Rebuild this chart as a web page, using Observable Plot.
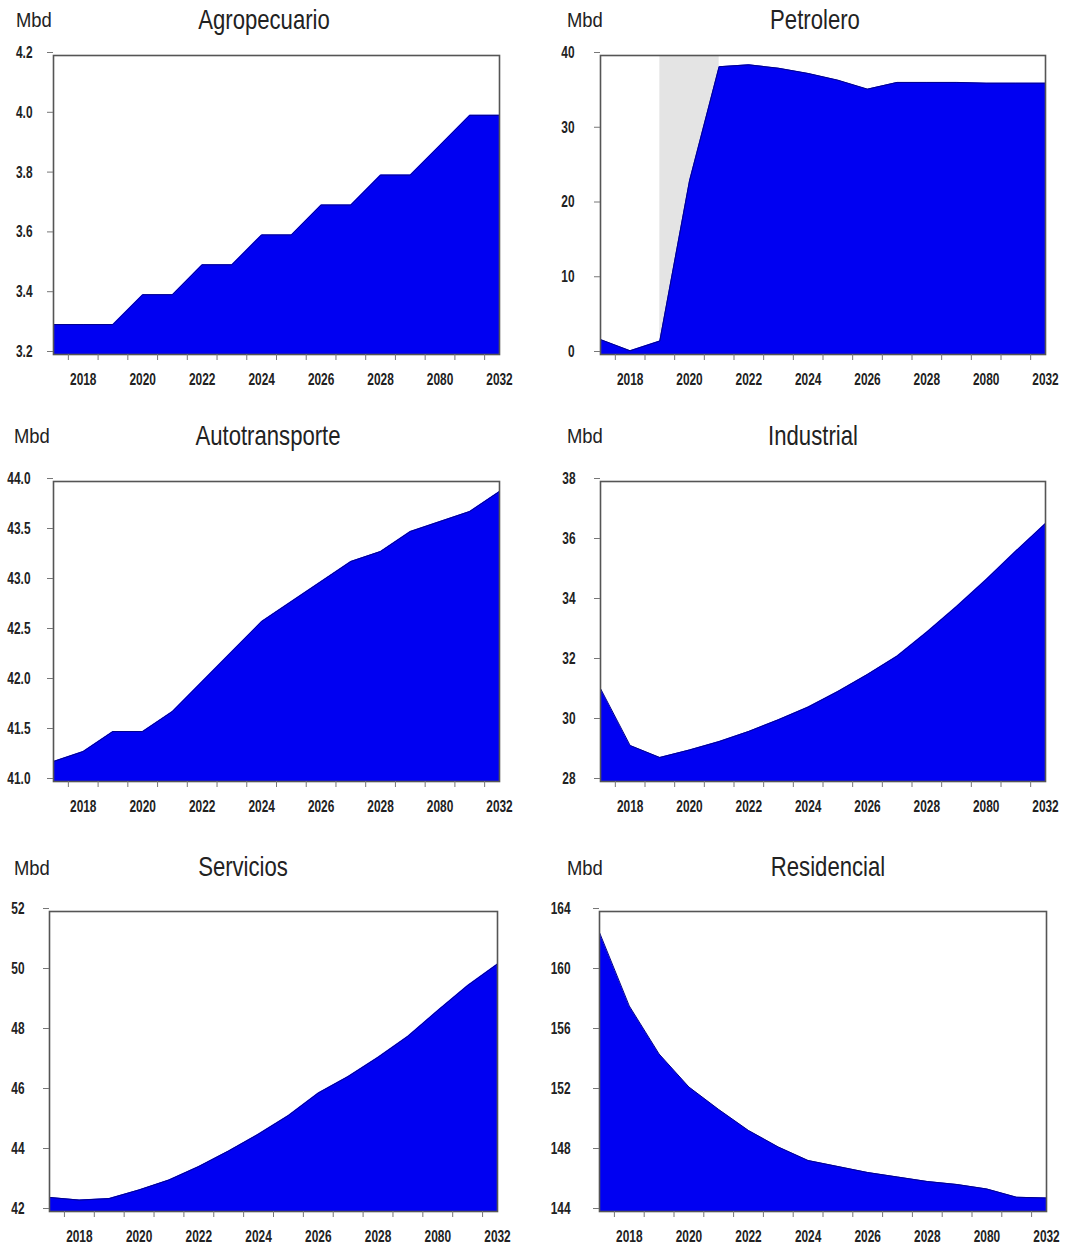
<!DOCTYPE html>
<html><head><meta charset="utf-8">
<script src="https://cdn.jsdelivr.net/npm/d3@7"></script>
<script src="https://cdn.jsdelivr.net/npm/@observablehq/plot@0.6"></script>
<style>
body{margin:0;background:#fff;}
#wrap{position:relative;width:1065px;height:1251px;overflow:hidden;background:#fff;}
.lbl{position:absolute;font-family:"Liberation Sans",Arial,sans-serif;color:#222;white-space:nowrap;line-height:1;}
.mbd{font-size:20px;transform-origin:left center;transform:scaleX(0.92);}
.ttl{font-size:28px;transform:translateX(-50%) scaleX(0.79);}
.panel{position:absolute;}
</style></head><body><div id="wrap"></div>
<script>
// ---- data ----
const years = [2017,2018,2019,2020,2021,2022,2023,2024,2025,2026,2027,2028,2029,2030,2031,2032];
const agropecuario   = [3.3,3.3,3.3,3.4,3.4,3.5,3.5,3.6,3.6,3.7,3.7,3.8,3.8,3.9,4.0,4.0];
const petrolero      = [2.0,0.5,1.8,23.2,38.5,38.75,38.3,37.6,36.7,35.5,36.4,36.4,36.4,36.3,36.3,36.3];
const autotransporte = [41.2,41.3,41.5,41.5,41.7,42.0,42.3,42.6,42.8,43.0,43.2,43.3,43.5,43.6,43.7,43.9];
const industrial     = [31.1,29.2,28.8,29.05,29.33,29.67,30.06,30.48,31.0,31.57,32.18,32.98,33.83,34.73,35.68,36.6];
const servicios      = [42.47,42.38,42.43,42.72,43.05,43.5,44.02,44.58,45.2,45.95,46.5,47.14,47.84,48.7,49.53,50.25];
const residencial    = [162.6,157.7,154.5,152.3,150.8,149.4,148.3,147.4,147.0,146.6,146.3,146.0,145.8,145.5,144.95,144.9];

const petroleroShade = [2019, 2021];

const titles = ["Agropecuario","Petrolero","Autotransporte","Industrial","Servicios","Residencial"];
const unitLabel = "Mbd";

const xTickYears  = [2018,2020,2022,2024,2026,2028,2030,2032];
const xTickLabels = ["2018","2020","2022","2024","2026","2028","2080","2032"];
const xMinorTicks = [2017.5,2018.5,2019.5,2020.5,2021.5,2022.5,2023.5,2024.5,2025.5,2026.5,2027.5,2028.5,2029.5,2030.5,2031.5];

const yTicksAgro = [3.2,3.4,3.6,3.8,4.0,4.2];
const yLabelsAgro = ["3.2","3.4","3.6","3.8","4.0","4.2"];
const yTicksPetro = [0,10,20,30,40];
const yLabelsPetro = ["0","10","20","30","40"];
const yTicksAuto = [41.0,41.5,42.0,42.5,43.0,43.5,44.0];
const yLabelsAuto = ["41.0","41.5","42.0","42.5","43.0","43.5","44.0"];
const yTicksInd = [28,30,32,34,36,38];
const yLabelsInd = ["28","30","32","34","36","38"];
const yTicksServ = [42,44,46,48,50,52];
const yLabelsServ = ["42","44","46","48","50","52"];
const yTicksRes = [144,148,152,156,160,164];
const yLabelsRes = ["144","148","152","156","160","164"];

// ---- layout ----
const panels = [
  {title:titles[0], values:agropecuario,   yT:yTicksAgro,  yL:yLabelsAgro,  x0:0,   w:530, L:53,  R:499,  T:55,  B:354,  tx:264, tb:30,  mx:16,  mb:27,  pad:15},
  {title:titles[1], values:petrolero,      yT:yTicksPetro, yL:yLabelsPetro, x0:530, w:535, L:600, R:1045, T:55,  B:354,  tx:815, tb:30,  mx:567, mb:27,  pad:20, shade:petroleroShade},
  {title:titles[2], values:autotransporte, yT:yTicksAuto,  yL:yLabelsAuto,  x0:0,   w:530, L:53,  R:499,  T:481, B:781,  tx:268, tb:446, mx:14,  mb:443, pad:17},
  {title:titles[3], values:industrial,     yT:yTicksInd,   yL:yLabelsInd,   x0:530, w:535, L:600, R:1045, T:481, B:781,  tx:813, tb:446, mx:567, mb:443, pad:19},
  {title:titles[4], values:servicios,      yT:yTicksServ,  yL:yLabelsServ,  x0:0,   w:530, L:49,  R:497,  T:911, B:1211, tx:243, tb:877, mx:14,  mb:875, pad:19},
  {title:titles[5], values:residencial,    yT:yTicksRes,   yL:yLabelsRes,   x0:530, w:535, L:599, R:1046, T:911, B:1211, tx:828, tb:877, mx:567, mb:875, pad:23}
];

const wrap = document.getElementById("wrap");
const FONT = '"Liberation Sans",Arial,sans-serif';

for (const p of panels) {
  const data = years.map((y, i) => ({year: y, value: p.values[i]}));
  const ymin = p.yT[0], ymax = p.yT[p.yT.length - 1];
  const mt = 12, mbot = 44;
  const h = (p.B - p.T) + mt + mbot;
  const marks = [];
  if (p.shade) {
    marks.push(Plot.rect([p.shade], {x1: d => d[0], x2: d => d[1], y1: () => ymin, y2: () => ymax, fill: "#e4e4e4"}));
  }
  marks.push(Plot.areaY(data, {x: "year", y1: () => ymin, y2: "value", fill: "#0000f2"}));
  marks.push(Plot.lineY(data, {x: "year", y: "value", stroke: "#00008a", strokeWidth: 1}));
  marks.push(Plot.frame({stroke: "#555", strokeWidth: 1.6}));
  marks.push(Plot.axisX(xMinorTicks, {anchor: "bottom", tickSize: 6, stroke: "#777", label: null, tickFormat: () => ""}));
  marks.push(Plot.axisX(xTickYears, {anchor: "bottom", tickSize: 0, tickPadding: 18, label: null,
    tickFormat: d => xTickLabels[xTickYears.indexOf(d)], fill: "#222", fontWeight: "bold", fontSize: 17}));
  marks.push(Plot.axisY(p.yT, {anchor: "left", tickSize: 6, tickPadding: p.pad, stroke: "#777", dy: -3, label: null,
    tickFormat: d => p.yL[p.yT.indexOf(d)], fill: "#222", fontWeight: "bold", fontSize: 17}));

  const svg = Plot.plot({
    width: p.w, height: h,
    marginLeft: p.L - p.x0, marginRight: (p.x0 + p.w) - p.R,
    marginTop: mt, marginBottom: mbot,
    x: {domain: [2017, 2032], label: null},
    y: {domain: [ymin, ymax], label: null},
    style: {fontFamily: FONT, background: "transparent", overflow: "visible"},
    marks
  });
  // narrow (condensed) look of the tick labels
  svg.querySelectorAll('g[aria-label$="tick label"] text').forEach(t => {
    const tr = t.getAttribute("transform") || "";
    t.setAttribute("transform", tr + " scale(0.7,1)");
  });
  const div = document.createElement("div");
  div.className = "panel";
  div.style.left = p.x0 + "px";
  div.style.top = (p.T - mt) + "px";
  div.appendChild(svg);
  wrap.appendChild(div);

  const m = document.createElement("div");
  m.className = "lbl mbd";
  m.textContent = unitLabel;
  m.style.left = p.mx + "px";
  m.style.top = (p.mb - 17) + "px";
  wrap.appendChild(m);

  const t = document.createElement("div");
  t.className = "lbl ttl";
  t.textContent = p.title;
  t.style.left = p.tx + "px";
  t.style.top = (p.tb - 24) + "px";
  wrap.appendChild(t);
}
</script></body></html>
